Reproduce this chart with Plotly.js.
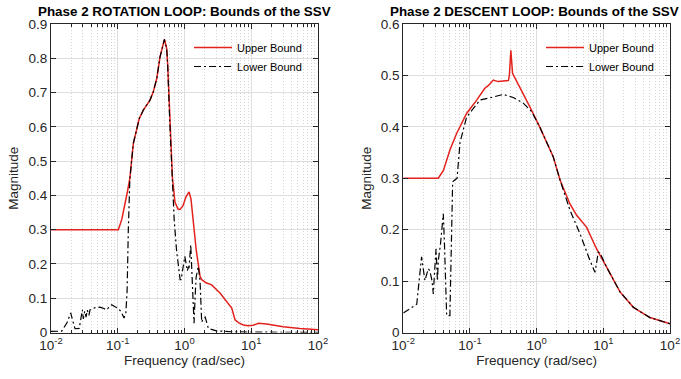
<!DOCTYPE html>
<html>
<head>
<meta charset="utf-8">
<script src="https://cdn.plot.ly/plotly-3.0.1.min.js"></script>
<style>html,body{margin:0;padding:0;background:#fff;}#chart{width:681px;height:379px;}</style>
</head>
<body>
<div id="chart"></div>
<script>
// ---- Data: Phase 2 ROTATION LOOP ----
const rotUpperFreq = [0.01, 0.102, 0.115, 0.128, 0.141, 0.152, 0.171, 0.21, 0.242, 0.304, 0.341, 0.384, 0.43, 0.50, 0.541, 0.56, 0.6, 0.66, 0.72, 0.8, 0.857, 0.95, 1.05, 1.17, 1.25, 1.355, 1.5, 1.71, 1.81, 2.1, 2.55, 3.4, 4.3, 5.1, 5.71, 6.5, 7.6, 9.0, 10.7, 12.8, 17.0, 30.2, 53.7, 100];
const rotUpperMag  = [0.30, 0.30, 0.33, 0.37, 0.415, 0.45, 0.551, 0.624, 0.649, 0.678, 0.702, 0.741, 0.804, 0.855, 0.829, 0.78, 0.62, 0.45, 0.38, 0.36, 0.359, 0.37, 0.395, 0.41, 0.39, 0.32, 0.24, 0.164, 0.154, 0.145, 0.139, 0.115, 0.09, 0.071, 0.037, 0.028, 0.022, 0.020, 0.021, 0.027, 0.025, 0.017, 0.012, 0.008];
const rotLowerFreq = [0.01, 0.0145, 0.0175, 0.0197, 0.0215, 0.0229, 0.0265, 0.028, 0.0295, 0.0305, 0.032, 0.0335, 0.035, 0.037, 0.0384, 0.045, 0.054, 0.062, 0.068, 0.075, 0.081, 0.091, 0.102, 0.113, 0.124, 0.132, 0.138, 0.144, 0.152, 0.171, 0.21, 0.242, 0.304, 0.341, 0.384, 0.43, 0.50, 0.541, 0.56, 0.6, 0.66, 0.70, 0.76, 0.80, 0.86, 0.89, 0.95, 1.01, 1.06, 1.10, 1.14, 1.17, 1.24, 1.29, 1.33, 1.39, 1.44, 1.49, 1.61, 1.71, 1.81, 1.9, 2.04, 2.28, 3.0, 5.0, 10, 100];
const rotLowerMag  = [0.003, 0.004, 0.03, 0.057, 0.03, 0.011, 0.012, 0.04, 0.066, 0.04, 0.062, 0.045, 0.065, 0.05, 0.066, 0.072, 0.074, 0.07, 0.066, 0.075, 0.081, 0.075, 0.07, 0.06, 0.042, 0.055, 0.12, 0.30, 0.45, 0.551, 0.624, 0.649, 0.678, 0.702, 0.741, 0.804, 0.855, 0.829, 0.78, 0.62, 0.45, 0.33, 0.24, 0.203, 0.154, 0.154, 0.19, 0.222, 0.20, 0.18, 0.19, 0.188, 0.256, 0.16, 0.12, 0.027, 0.10, 0.16, 0.193, 0.15, 0.03, 0.04, 0.045, 0.012, 0.005, 0.002, 0.001, 0.0005];

// ---- Data: Phase 2 DESCENT LOOP ----
const desUpperFreq = [0.01, 0.0335, 0.04, 0.05, 0.063, 0.089, 0.126, 0.167, 0.188, 0.224, 0.265, 0.33, 0.376, 0.39, 0.41, 0.435, 0.47, 0.59, 0.79, 1.11, 1.77, 2.25, 3.16, 3.98, 5.6, 7.9, 11.2, 17.8, 28.2, 50, 100];
const desUpperMag  = [0.30, 0.30, 0.315, 0.355, 0.387, 0.426, 0.452, 0.475, 0.48, 0.491, 0.488, 0.489, 0.49, 0.50, 0.549, 0.504, 0.495, 0.471, 0.439, 0.40, 0.342, 0.296, 0.25, 0.228, 0.205, 0.163, 0.127, 0.079, 0.049, 0.029, 0.017];
const desLowerFreq = [0.01, 0.0159, 0.0188, 0.0211, 0.0237, 0.025, 0.027, 0.0282, 0.0295, 0.031, 0.0325, 0.0335, 0.036, 0.0398, 0.0415, 0.0447, 0.050, 0.055, 0.064, 0.071, 0.089, 0.141, 0.224, 0.316, 0.445, 0.63, 0.84, 1.11, 1.77, 2.25, 3.16, 4.47, 6.3, 7.5, 8.4, 8.9, 11.2, 17.8, 28.2, 50, 100];
const desLowerMag  = [0.038, 0.055, 0.147, 0.101, 0.124, 0.12, 0.10, 0.075, 0.12, 0.163, 0.10, 0.14, 0.17, 0.231, 0.17, 0.033, 0.033, 0.293, 0.30, 0.37, 0.419, 0.452, 0.458, 0.463, 0.457, 0.446, 0.43, 0.40, 0.342, 0.296, 0.238, 0.192, 0.14, 0.117, 0.156, 0.155, 0.127, 0.079, 0.049, 0.029, 0.017];

// ---- Labels ----
const titles = ["Phase 2 ROTATION LOOP: Bounds of the SSV", "Phase 2 DESCENT LOOP: Bounds of the SSV"];
const seriesNames = ["Upper Bound", "Lower Bound"];
const xTickVals = [0.01, 0.1, 1, 10, 100];
const xTickText = ["10<sup>-2</sup>", "10<sup>-1</sup>", "10<sup>0</sup>", "10<sup>1</sup>", "10<sup>2</sup>"];
const xLabel = "Frequency (rad/sec)";
const yLabel = "Magnitude";

const FONT = "Liberation Sans, Arial, Helvetica, sans-serif";
const RED = "#e3221e";
const AXC = "#262626";
const DASHDOT = "7px,3px,2px,3px";

const traces = [
  {x: rotUpperFreq, y: rotUpperMag, name: seriesNames[0], type: "scatter", mode: "lines",
   line: {color: RED, width: 1.5}, xaxis: "x", yaxis: "y", legend: "legend"},
  {x: rotLowerFreq, y: rotLowerMag, name: seriesNames[1], type: "scatter", mode: "lines",
   line: {color: "#000000", width: 1.2, dash: DASHDOT}, xaxis: "x", yaxis: "y", legend: "legend"},
  {x: desUpperFreq, y: desUpperMag, name: seriesNames[0], type: "scatter", mode: "lines",
   line: {color: RED, width: 1.5}, xaxis: "x2", yaxis: "y2", legend: "legend2"},
  {x: desLowerFreq, y: desLowerMag, name: seriesNames[1], type: "scatter", mode: "lines",
   line: {color: "#000000", width: 1.2, dash: DASHDOT}, xaxis: "x2", yaxis: "y2", legend: "legend2"}
];

function xAxis(domain, anchor) {
  return {
    type: "log", range: [-2, 2], domain: domain, anchor: anchor,
    tickmode: "array", tickvals: xTickVals, ticktext: xTickText,
    ticks: "inside", ticklen: 5, tickcolor: AXC, mirror: "ticks",
    showline: true, linecolor: AXC, linewidth: 1,
    showgrid: true, gridcolor: "#dedede", gridwidth: 1,
    minor: {dtick: "D1", showgrid: true, gridcolor: "#d4d4d4", griddash: "1px,2px", gridwidth: 1,
            ticks: "inside", ticklen: 3, tickcolor: AXC},
    zeroline: false,
    tickfont: {family: FONT, size: 13.5, color: AXC},
    title: {text: xLabel, font: {family: FONT, size: 13.5, color: AXC}, standoff: 3}
  };
}
function yAxis(range, domain, anchor) {
  return {
    range: range, domain: domain, anchor: anchor, dtick: 0.1,
    ticks: "inside", ticklen: 5, tickcolor: AXC, mirror: "ticks",
    showline: true, linecolor: AXC, linewidth: 1,
    showgrid: true, gridcolor: "#dedede", gridwidth: 1, zeroline: false,
    tickfont: {family: FONT, size: 13.5, color: AXC},
    title: {text: yLabel, font: {family: FONT, size: 13.5, color: AXC}, standoff: 6}
  };
}

const yDom = [1 - 332.5/379, 1 - 24/379];
const xDom1 = [51/681, 318/681];
const xDom2 = [403.3/681, 670/681];

const legendStyle = (xpos) => ({
  x: xpos, y: 1 - 33/379, xanchor: "left", yanchor: "top",
  bgcolor: "rgba(0,0,0,0)", borderwidth: 0, itemwidth: 38,
  font: {family: FONT, size: 11, color: "#000"}, tracegroupgap: 0
});

const layout = {
  width: 681, height: 379,
  margin: {l: 0, r: 0, t: 0, b: 0},
  paper_bgcolor: "#ffffff", plot_bgcolor: "#ffffff",
  showlegend: true,
  xaxis: xAxis(xDom1, "y"),
  yaxis: yAxis([0, 0.9], yDom, "x"),
  xaxis2: xAxis(xDom2, "y2"),
  yaxis2: yAxis([0, 0.6], yDom, "x2"),
  legend: legendStyle(189/681),
  legend2: legendStyle(541/681),
  annotations: [
    {text: "<b>" + titles[0] + "</b>", xref: "paper", yref: "paper",
     x: 184/681, y: 1 - 11.5/379, xanchor: "center", yanchor: "middle",
     showarrow: false, font: {family: FONT, size: 13.4, color: "#000"}},
    {text: "<b>" + titles[1] + "</b>", xref: "paper", yref: "paper",
     x: 534/681, y: 1 - 11.5/379, xanchor: "center", yanchor: "middle",
     showarrow: false, font: {family: FONT, size: 13.4, color: "#000"}}
  ]
};

Plotly.newPlot("chart", traces, layout, {displayModeBar: false, staticPlot: true});
</script>
</body>
</html>
